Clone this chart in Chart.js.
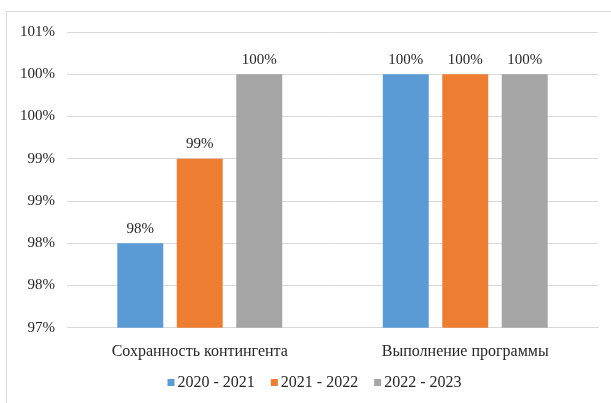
<!DOCTYPE html>
<html>
<head>
<meta charset="utf-8">
<script src="https://cdn.jsdelivr.net/npm/chart.js@4.4.1/dist/chart.umd.min.js"></script>
<style>
  html, body { margin: 0; padding: 0; background: #fff; }
  #frame { position: absolute; left: 6px; top: 11px; width: 640px; height: 440px; border: 1px solid #d9d9d9; box-sizing: border-box; }
  #wrap { position: absolute; left: 0; top: 0; width: 611px; height: 403px; }
</style>
</head>
<body>
<div id="frame"></div>
<div id="wrap"><canvas id="c" width="611" height="403"></canvas></div>
<script>
const categories = ['Сохранность контингента', 'Выполнение программы'];
const seriesNames = ['2020 - 2021', '2021 - 2022', '2022 - 2023'];
const values2020 = [98, 100];
const values2021 = [99, 100];
const values2022 = [100, 100];
const colors = ['#5B9BD5', '#ED7D31', '#A5A5A5'];
const yMin = 97, yMax = 100.5, yStep = 0.5;

const FONT = "'Liberation Serif', 'Times New Roman', serif";
const TEXT = '#262626';
Chart.defaults.font.family = FONT;
Chart.defaults.font.size = 15;

const barLabels = {
  id: 'barLabels',
  afterDatasetsDraw(chart) {
    const ctx = chart.ctx;
    ctx.save();
    ctx.font = '15px ' + FONT;
    ctx.fillStyle = TEXT;
    ctx.textAlign = 'center';
    ctx.textBaseline = 'bottom';
    chart.data.datasets.forEach((ds, i) => {
      const meta = chart.getDatasetMeta(i);
      meta.data.forEach((bar, j) => {
        ctx.fillText(Math.round(ds.data[j]) + '%', bar.x, bar.y - 7);
      });
    });
    ctx.restore();
  }
};

// Bottom legend drawn from the dataset labels/colours
const customLegend = {
  id: 'customLegend',
  afterDraw(chart) {
    const ctx = chart.ctx;
    ctx.save();
    ctx.font = '16px ' + FONT;
    ctx.textBaseline = 'middle';
    ctx.textAlign = 'left';
    const box = 7, gapBox = 3, gapItem = 16;
    const items = chart.data.datasets.map(ds => ({ text: ds.label, color: ds.backgroundColor, w: ctx.measureText(ds.label).width }));
    const total = items.reduce((s, it) => s + box + gapBox + it.w, 0) + gapItem * (items.length - 1);
    let x = 314.5 - total / 2;
    const cy = 383;
    items.forEach(it => {
      ctx.fillStyle = it.color;
      ctx.fillRect(x, cy - box / 2 - 0.5, box, box);
      x += box + gapBox;
      ctx.fillStyle = TEXT;
      ctx.fillText(it.text, x, cy);
      x += it.w + gapItem;
    });
    ctx.restore();
  }
};

new Chart(document.getElementById('c'), {
  type: 'bar',
  data: {
    labels: categories,
    datasets: [values2020, values2021, values2022].map((d, i) => ({
      label: seriesNames[i],
      data: d,
      backgroundColor: colors[i],
      borderWidth: 0,
      categoryPercentage: 0.672,
      barPercentage: 0.773
    }))
  },
  options: {
    responsive: false,
    animation: false,
    devicePixelRatio: 1,
    layout: { padding: { left: 0, right: 13, top: 32, bottom: 36 } },
    plugins: {
      legend: { display: false },
      tooltip: { enabled: false }
    },
    scales: {
      x: {
        grid: { display: false },
        border: { display: true, color: '#d9d9d9' },
        ticks: { font: { family: FONT, size: 16 }, color: TEXT, padding: 6 }
      },
      y: {
        min: yMin,
        max: yMax,
        afterFit(scale) { scale.width = 67; },
        ticks: {
          stepSize: yStep,
          font: { family: FONT, size: 15 },
          color: TEXT,
          padding: 12,
          callback: v => Math.round(v) + '%'
        },
        grid: { color: '#d9d9d9', drawTicks: false },
        border: { display: false }
      }
    }
  },
  plugins: [barLabels, customLegend]
});
</script>
</body>
</html>
